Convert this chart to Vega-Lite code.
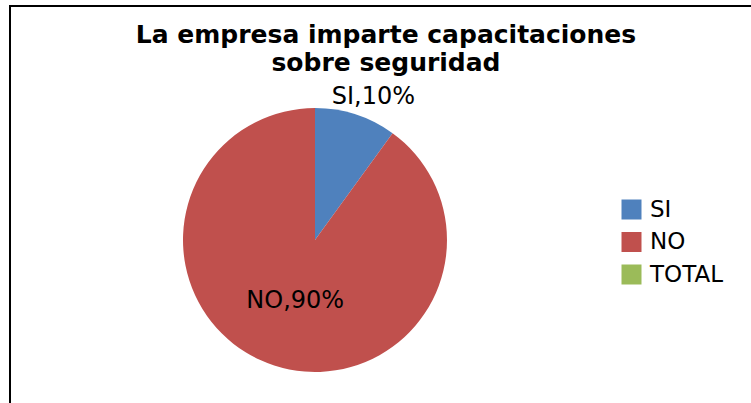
{
  "$schema": "https://vega.github.io/schema/vega-lite/v6.json",
  "background": "white",
  "padding": {"left": 9, "top": 5, "right": 0, "bottom": 0},
  "bounds": "flush",
  "spacing": 0,
  "datasets": {
    "respuestas": [
      {"cat": "SI", "value": 10, "ord": 1, "label": "SI,10%"},
      {"cat": "NO", "value": 90, "ord": 2, "label": "NO,90%"},
      {"cat": "TOTAL", "value": 0, "ord": 3, "label": ""}
    ]
  },
  "hconcat": [
    {
      "width": 610,
      "height": 468,
      "view": {"stroke": "#000000", "strokeWidth": 2, "strokeDash": [610, 1078, 468, 10]},
      "title": {
        "text": ["La empresa imparte capacitaciones", "sobre seguridad"],
        "font": "DejaVu Sans",
        "fontSize": 25,
        "fontWeight": "bold",
        "color": "#000000",
        "lineHeight": 28,
        "anchor": "middle",
        "frame": "group",
        "dx": 71,
        "offset": -70
      },
      "data": {"name": "respuestas"},
      "encoding": {
        "theta": {"field": "value", "type": "quantitative", "stack": true},
        "order": {"field": "ord", "type": "quantitative"}
      },
      "layer": [
        {
          "mark": {"type": "arc", "outerRadius": 132},
          "encoding": {
            "color": {
              "field": "cat",
              "type": "nominal",
              "sort": ["SI", "NO", "TOTAL"],
              "scale": {"domain": ["SI", "NO", "TOTAL"], "range": ["#4F81BD", "#C0504D", "#9BBB59"]},
              "legend": {
                "title": null,
                "orient": "none",
                "legendX": 610,
                "legendY": 192,
                "symbolType": "square",
                "symbolSize": 400,
                "symbolStrokeWidth": 0,
                "labelFont": "DejaVu Sans",
                "labelFontSize": 23,
                "labelColor": "#000000",
                "labelOffset": 7,
                "rowPadding": 8.5,
                "padding": 0
              }
            }
          }
        },
        {
          "mark": {"type": "text", "radius": 150, "dx": 12, "font": "DejaVu Sans", "fontSize": 24, "color": "#000000"},
          "encoding": {
            "detail": {"field": "cat", "type": "nominal"},
            "text": {"condition": {"test": "datum.cat === 'SI'", "field": "label"}, "value": ""}
          }
        },
        {
          "mark": {"type": "text", "radius": 64, "font": "DejaVu Sans", "fontSize": 24, "color": "#000000"},
          "encoding": {
            "detail": {"field": "cat", "type": "nominal"},
            "text": {"condition": {"test": "datum.cat === 'NO'", "field": "label"}, "value": ""}
          }
        }
      ]
    },
    {
      "width": 131,
      "height": 468,
      "view": {"stroke": "#000000", "strokeWidth": 2, "strokeDash": [131, 2000]},
      "data": {"values": [{"k": 1}]},
      "mark": {"type": "text"},
      "encoding": {}
    }
  ],
  "config": {"view": {"stroke": null}}
}
